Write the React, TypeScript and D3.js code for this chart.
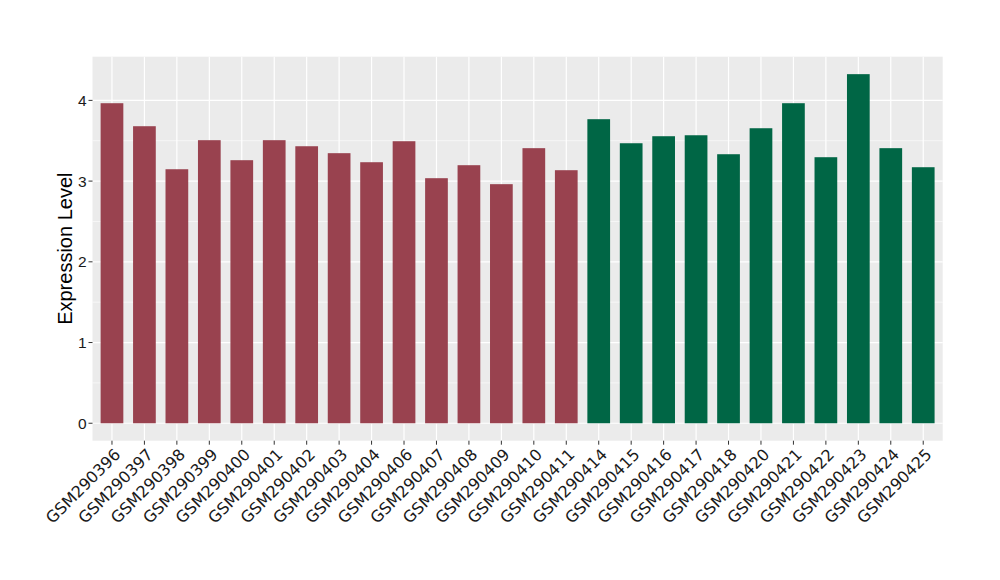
import React from "react";
import * as d3 from "d3";

const samples = [
  "GSM290396", "GSM290397", "GSM290398", "GSM290399", "GSM290400", "GSM290401",
  "GSM290402", "GSM290403", "GSM290404", "GSM290406", "GSM290407", "GSM290408",
  "GSM290409", "GSM290410", "GSM290411", "GSM290414", "GSM290415", "GSM290416",
  "GSM290417", "GSM290418", "GSM290420", "GSM290421", "GSM290422", "GSM290423",
  "GSM290424", "GSM290425",
];
const values = [
  3.965, 3.68, 3.147, 3.507, 3.259, 3.507, 3.432, 3.346, 3.234, 3.494, 3.036, 3.197,
  2.962, 3.408, 3.135, 3.767, 3.469, 3.556, 3.568, 3.333, 3.655, 3.965, 3.296, 4.325,
  3.408, 3.172,
];
const groups = [
  "A", "A", "A", "A", "A", "A", "A", "A", "A", "A", "A", "A", "A", "A", "A",
  "B", "B", "B", "B", "B", "B", "B", "B", "B", "B", "B",
];
const groupColors: Record<string, string> = { A: "#99424f", B: "#006645" };
const yTicks = [0, 1, 2, 3, 4];
const yMinor = [0.5, 1.5, 2.5, 3.5];

export default function App() {
  const W = 1000, H = 580;
  const left = 92.5, right = 942.7, top = 56.7, bottom = 440.7;
  const maxV = d3.max(values) as number;
  const y = d3.scaleLinear().domain([-0.05 * maxV, 1.05 * maxV]).range([bottom, top]);
  const n = samples.length;
  const x = d3.scaleLinear().domain([0.4, n + 0.6]).range([left, right]);
  const bw = (x(1) - x(0)) * 0.7;
  const font = "'Liberation Sans', Arial, sans-serif";
  const xfont = "'DejaVu Sans', sans-serif";
  return (
    <svg width={W} height={H} style={{ position: "absolute", left: 0, top: 0 }}>
      <rect x={0} y={0} width={W} height={H} fill="#fff" />
      <rect x={left} y={top} width={right - left} height={bottom - top} fill="#ebebeb" />
      {yMinor.map((t) => (
        <line key={"m" + t} x1={left} x2={right} y1={y(t)} y2={y(t)} stroke="#fff" strokeWidth={0.6} />
      ))}
      {yTicks.map((t) => (
        <line key={"g" + t} x1={left} x2={right} y1={y(t)} y2={y(t)} stroke="#fff" strokeWidth={1.2} />
      ))}
      {samples.map((s, i) => (
        <line key={"v" + s} x1={x(i + 1)} x2={x(i + 1)} y1={top} y2={bottom} stroke="#fff" strokeWidth={1.2} />
      ))}
      {samples.map((s, i) => (
        <rect
          key={"b" + s}
          x={x(i + 1) - bw / 2}
          width={bw}
          y={y(values[i])}
          height={y(0) - y(values[i])}
          fill={groupColors[groups[i]]}
        />
      ))}
      {yTicks.map((t) => (
        <g key={"yt" + t}>
          <line x1={left - 4} x2={left} y1={y(t)} y2={y(t)} stroke="#333" strokeWidth={1} />
          <text x={left - 6} y={y(t)} dy="0.36em" textAnchor="end" fontFamily={font} fontSize={15.5} fill="#1a1a1a">
            {t}
          </text>
        </g>
      ))}
      {samples.map((s, i) => (
        <g key={"xt" + s}>
          <line x1={x(i + 1)} x2={x(i + 1)} y1={bottom} y2={bottom + 4} stroke="#333" strokeWidth={1} />
          <text
            transform={`translate(${x(i + 1) + 1.5},${bottom + 7}) rotate(-45)`}
            textAnchor="end"
            dy="0.7em"
            fontFamily={xfont}
            fontSize={16}
            fill="#1a1a1a"
          >
            {s}
          </text>
        </g>
      ))}
      <text
        transform={`translate(72,${(top + bottom) / 2}) rotate(-90)`}
        textAnchor="middle"
        fontFamily={font}
        fontSize={20}
        fill="#000"
      >
        Expression Level
      </text>
    </svg>
  );
}
